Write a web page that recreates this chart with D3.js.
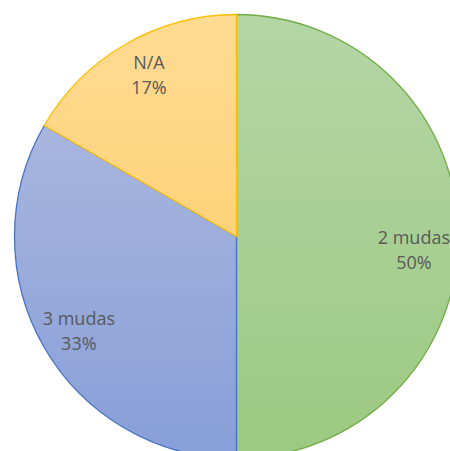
<!DOCTYPE html>
<html>
<head>
<meta charset="utf-8">
<script src="https://cdn.jsdelivr.net/npm/d3@7"></script>
<style>
html,body{margin:0;padding:0;background:#fff;overflow:hidden;}
svg{display:block;}
</style>
</head>
<body>
<svg id="chart" width="450" height="451"></svg>
<script>
const categories = ["2 mudas", "3 mudas", "N/A"];
const values = [3, 2, 1];
const percentLabels = ["50%", "33%", "17%"];
const fillTop = ["#b4d6a6", "#a8b6df", "#ffdb93"];
const fillBottom = ["#9cc981", "#879ed7", "#fed27a"];
const strokes = ["#70ad47", "#4472c4", "#ffc000"];

const W = 450, H = 451;
const cx = 236.5, cy = 236.5, R = 222;
// small label nudges (style), [dx, dy] per slice
const labelNudge = [[0, 13], [0, 3], [3.5, -3.5]];

const svg = d3.select("#chart");
const defs = svg.append("defs");

categories.forEach((c, i) => {
  const g = defs.append("linearGradient").attr("id", "grad" + i)
    .attr("x1", 0).attr("y1", 0).attr("x2", 0).attr("y2", 1);
  g.append("stop").attr("offset", "0%").attr("stop-color", fillTop[i]);
  g.append("stop").attr("offset", "100%").attr("stop-color", fillBottom[i]);
});

const pie = d3.pie().sort(null).value(d => d);
const arcs = pie(values);
const arc = d3.arc().innerRadius(0).outerRadius(R);
const labelArc = d3.arc().innerRadius(R * 0.82).outerRadius(R * 0.82);

const g = svg.append("g").attr("transform", `translate(${cx},${cy})`);
g.selectAll("path.slice").data(arcs).join("path")
  .attr("class", "slice")
  .attr("d", arc)
  .attr("fill", (d, i) => `url(#grad${i})`)
  .attr("stroke", (d, i) => strokes[i])
  .attr("stroke-width", 1.3)
  .attr("stroke-linejoin", "round");

const fontSize = 18;
const lab = g.selectAll("text.lbl").data(arcs).join("text")
  .attr("class", "lbl")
  .attr("font-family", "'Open Sans', 'Noto Sans', sans-serif")
  .attr("font-size", fontSize)
  .attr("fill", "#595959")
  .attr("text-anchor", "middle");

lab.each(function(d, i) {
  const t = d3.select(this);
  let [x, y] = labelArc.centroid(d);
  t.append("tspan").attr("x", 0).attr("dy", 0).text(categories[i]);
  t.append("tspan").attr("x", 0).attr("dy", 25).text(percentLabels[i]);
  const bb = this.getBBox();
  const halfW = bb.width / 2;
  const maxX = W - cx - halfW;
  if (x > maxX) x = maxX;
  x += labelNudge[i][0];
  y += labelNudge[i][1];
  t.attr("transform", `translate(${x},${y - 6})`);
});
</script>
</body>
</html>
